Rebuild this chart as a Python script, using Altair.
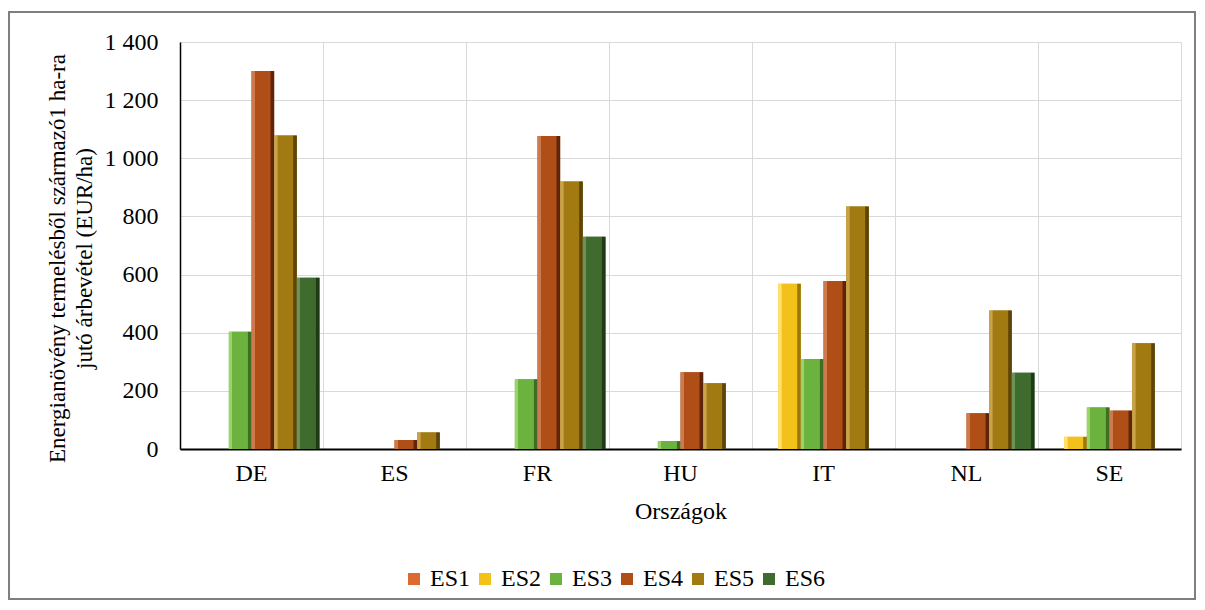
import altair as alt
import pandas as pd

countries = ["DE", "ES", "FR", "HU", "IT", "NL", "SE"]
series = ["ES1", "ES2", "ES3", "ES4", "ES5", "ES6"]
es1 = [None, None, None, None, None, None, None]
es2 = [None, None, None, None, 568, None, 42]
es3 = [403, None, 240, 27, 310, None, 143]
es4 = [1300, 31, 1077, 264, 578, 123, 132]
es5 = [1078, 57, 920, 226, 834, 476, 364]
es6 = [589, None, 730, None, None, 262, None]

base_colors = ["#DD6A2E", "#F2C21A", "#6CB23E", "#B04E18", "#A27A12", "#3F6B2E"]
light_colors = ["#EE9A66", "#FFE070", "#9AD36C", "#CC7A4E", "#C9A24A", "#6A9456"]
dark_colors = ["#8A3E14", "#9A7808", "#3E6E22", "#5E250A", "#5E4408", "#1F3A16"]

values = {"ES1": es1, "ES2": es2, "ES3": es3, "ES4": es4, "ES5": es5, "ES6": es6}
rows = []
for s in series:
    for c, v in zip(countries, values[s]):
        if v is not None:
            rows.append({"country": c, "series": s, "value": v})
df = pd.DataFrame(rows)

FONT = "Liberation Serif"
FS = 24

x = alt.X(
    "country:N",
    sort=countries,
    scale=alt.Scale(domain=countries, paddingInner=0, paddingOuter=0),
    axis=alt.Axis(
        title="Országok", labelAngle=0, grid=True, bandPosition=0,
        gridColor="#D9D9D9", gridWidth=1, ticks=False, tickSize=0,
        domainColor="black", domainWidth=2, labelPadding=12, titlePadding=14,
        labelFont=FONT, labelFontSize=FS, labelColor="black",
        titleFont=FONT, titleFontSize=FS, titleFontWeight="normal", titleColor="black",
    ),
)
xo = alt.XOffset("series:N", scale=alt.Scale(domain=series, paddingInner=0, paddingOuter=0.155))
y = alt.Y(
    "value:Q",
    scale=alt.Scale(domain=[0, 1400]),
    axis=alt.Axis(
        values=[0, 200, 400, 600, 800, 1000, 1200, 1400],
        labelExpr="replace(format(datum.value, ',d'), ',', ' ')",
        title=["Energianövény termelésből származó1 ha-ra", "jutó árbevétel (EUR/ha)"],
        titleX=-134, titleY=216, titleBaseline="top", titleAlign="center", titleAngle=-90,
        titleLineHeight=27,
        grid=True, gridColor="#D9D9D9", gridWidth=1, ticks=False, tickSize=0,
        domainColor="black", domainWidth=1.5, labelPadding=22,
        labelFont=FONT, labelFontSize=FS, labelColor="black",
        titleFont=FONT, titleFontSize=23, titleFontWeight="normal", titleColor="black",
    ),
)

color = alt.Color(
    "series:N",
    scale=alt.Scale(domain=series, range=base_colors),
    legend=alt.Legend(
        title=None, orient="none", legendX=222, legendY=525, direction="horizontal",
        columns=6, symbolType="square", symbolSize=144, symbolStrokeWidth=0,
        labelFont=FONT, labelFontSize=FS, labelColor="black", labelOffset=4,
        columnPadding=2, padding=0,
    ),
)

bars = alt.Chart(df).mark_bar().encode(x=x, xOffset=xo, y=y, color=color)

layers = []
for s, b, l, d in zip(series, base_colors, light_colors, dark_colors):
    if all(v is None for v in values[s]):
        continue
    grad = alt.Gradient(
        gradient="linear", x1=0, x2=1, y1=0, y2=0,
        stops=[
            alt.GradientStop(color=l, offset=0),
            alt.GradientStop(color=l, offset=0.14),
            alt.GradientStop(color=b, offset=0.16),
            alt.GradientStop(color=b, offset=0.82),
            alt.GradientStop(color=d, offset=0.86),
            alt.GradientStop(color=d, offset=1),
        ],
    )
    layers.append(
        alt.Chart(df).transform_filter(alt.datum.series == s)
        .mark_bar(color=grad).encode(x=x, xOffset=xo, y=y)
    )

frame = alt.Chart(pd.DataFrame({"a": [0]})).mark_rect(
    fillOpacity=0, stroke="#7F7F7F", strokeWidth=2
).encode(
    x=alt.value(-171), x2=alt.value(1015), y=alt.value(-30), y2=alt.value(557)
)

chart = alt.layer(bars, *layers, frame).properties(
    width=1001, height=407,
    autosize=alt.AutoSizeParams(type="none"),
    padding={"left": 172, "top": 34, "right": 16, "bottom": 153},
    background="white",
).configure_view(stroke="#D9D9D9", strokeWidth=1)

chart.save("out.html", embed_options={"renderer": "svg", "actions": False})
